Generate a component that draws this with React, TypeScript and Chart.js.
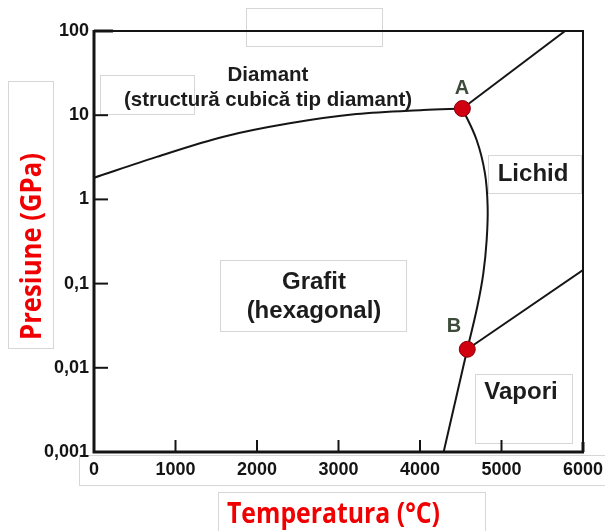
import React, { useEffect, useRef } from "react";
import { Chart, registerables } from "chart.js";

Chart.register(...registerables);

// ---- axis ticks ----
const xTickValues = [0, 1000, 2000, 3000, 4000, 5000, 6000];
const xTickLabels = ["0", "1000", "2000", "3000", "4000", "5000", "6000"];
const yTickValues = [0.001, 0.01, 0.1, 1, 10, 100];
const yTickLabels = ["0,001", "0,01", "0,1", "1", "10", "100"];

// ---- phase boundaries (T in °C, P in GPa) ----
const graphiteDiamondT = [0, 770, 1590, 2400, 3220, 4040, 4520];
const graphiteDiamondP = [1.81, 3.2, 5.55, 8.0, 10.3, 11.5, 12];

const graphiteLiquidT = [4520, 4695, 4797, 4830, 4818, 4777, 4703, 4580];
const graphiteLiquidP = [12, 5.07, 2.04, 0.82, 0.33, 0.132, 0.053, 0.0166];

const diamondLiquidT = [4520, 5780];
const diamondLiquidP = [12, 100];

const graphiteVaporT = [4580, 4290];
const graphiteVaporP = [0.0166, 0.001];

const liquidVaporT = [4580, 6000];
const liquidVaporP = [0.0166, 0.145];

const triplePointNames = ["A", "B"];
const triplePointT = [4520, 4580];
const triplePointP = [12, 0.0166];

// ---- texts ----
const xTitle = "Temperatura (°C)";
const yTitle = "Presiune (GPa)";
const regionNames = [
  ["Diamant", "(structură cubică tip diamant)"],
  ["Grafit", "(hexagonal)"],
  ["Lichid"],
  ["Vapori"],
];

// annotation anchors in data coordinates, with styles
const regionAnchors = [
  { t: 2135, p: 30, size: 20.5, lineH: 25 },
  { t: 2699, p: 0.1045, size: 24, lineH: 29.5 },
  { t: 5387, p: 2.0, size: 24, lineH: 28 },
  { t: 5239, p: 0.00516, size: 24, lineH: 28 },
];
const pointLabelAnchors = [
  { t: 4515, p: 21 },
  { t: 4417, p: 0.0313 },
];

// decorative light boxes from the scanned figure (pixels)
const scanBoxes = [
  [246, 8, 136, 38],
  [100, 75, 94, 39],
  [8, 81, 45, 267],
  [79, 455, 540, 30],
  [218, 492, 267, 45],
  [488, 155, 93, 38],
  [475, 374, 97, 69],
  [220, 260, 186, 71],
];

const toPts = (ts: number[], ps: number[]) => ts.map((t, i) => ({ x: t, y: ps[i] }));

const LABEL_FONT = '"Liberation Sans", Arial, sans-serif';
const TITLE_FONT = '"Open Sans", "Noto Sans", sans-serif';

function fitText(ctx: CanvasRenderingContext2D, text: string, targetW: number) {
  const w = ctx.measureText(text).width;
  return Math.min(1.15, targetW / w);
}

const decorPlugin = {
  id: "decor",
  beforeDraw(chart: any) {
    const ctx: CanvasRenderingContext2D = chart.ctx;
    ctx.save();
    ctx.fillStyle = "#ffffff";
    ctx.fillRect(0, 0, chart.width, chart.height);
    ctx.strokeStyle = "#d6d6d6";
    ctx.lineWidth = 1;
    for (const [x, y, w, h] of scanBoxes) ctx.strokeRect(x + 0.5, y + 0.5, w, h);
    ctx.restore();
  },
  afterDraw(chart: any) {
    const ctx: CanvasRenderingContext2D = chart.ctx;
    const { left, right, top, bottom } = chart.chartArea;
    const xs = chart.scales.x;
    const ys = chart.scales.y;
    ctx.save();
    ctx.strokeStyle = "#141414";
    ctx.lineCap = "butt";
    // top & right frame
    ctx.lineWidth = 2;
    ctx.beginPath();
    ctx.moveTo(left, top);
    ctx.lineTo(right, top);
    ctx.lineTo(right, bottom);
    ctx.stroke();
    // left & bottom axes
    ctx.lineWidth = 3;
    ctx.beginPath();
    ctx.moveTo(left, top - 1);
    ctx.lineTo(left, bottom);
    ctx.lineTo(right + 1, bottom);
    ctx.stroke();
    // inner tick marks
    for (let i = 1; i < yTickValues.length; i++) {
      const y = ys.getPixelForValue(yTickValues[i]);
      const last = i === yTickValues.length - 1;
      ctx.lineWidth = last ? 3 : 2;
      ctx.beginPath();
      ctx.moveTo(left, y);
      ctx.lineTo(left + (last ? 19 : 14), y);
      ctx.stroke();
    }
    ctx.lineWidth = 2;
    for (let i = 1; i < xTickValues.length - 1; i++) {
      const x = xs.getPixelForValue(xTickValues[i]);
      ctx.beginPath();
      ctx.moveTo(x, bottom);
      ctx.lineTo(x, bottom - 12);
      ctx.stroke();
    }
    ctx.lineWidth = 3;
    ctx.beginPath();
    ctx.moveTo(right, bottom);
    ctx.lineTo(right, bottom - 10);
    ctx.stroke();

    // region labels
    ctx.fillStyle = "#1c1c1c";
    ctx.textAlign = "center";
    ctx.textBaseline = "middle";
    regionNames.forEach((lines, i) => {
      const a = regionAnchors[i];
      const cx = xs.getPixelForValue(a.t);
      const cy = ys.getPixelForValue(a.p);
      ctx.font = `bold ${a.size}px ${LABEL_FONT}`;
      lines.forEach((ln, k) => ctx.fillText(ln, cx, cy + k * a.lineH));
    });
    // triple point names
    ctx.fillStyle = "#3d4b3b";
    ctx.font = `bold 20px ${LABEL_FONT}`;
    triplePointNames.forEach((n, i) => {
      const a = pointLabelAnchors[i];
      ctx.fillText(n, xs.getPixelForValue(a.t), ys.getPixelForValue(a.p));
    });

    // axis titles (Calibri-like, fitted to width)
    ctx.fillStyle = "#f00000";
    ctx.font = `bold 29px ${TITLE_FONT}`;
    ctx.textBaseline = "alphabetic";
    ctx.save();
    ctx.translate(333.5, 523);
    const sx = fitText(ctx, xTitle, 213);
    ctx.scale(sx, 1);
    ctx.fillText(xTitle, 0, 0);
    ctx.restore();

    ctx.save();
    ctx.translate(41, 246.5);
    ctx.rotate(-Math.PI / 2);
    const sy = fitText(ctx, yTitle, 187);
    ctx.scale(sy, 1);
    ctx.fillText(yTitle, 0, 0);
    ctx.restore();

    ctx.restore();
  },
};

export default function App() {
  const ref = useRef<HTMLCanvasElement | null>(null);

  useEffect(() => {
    if (!ref.current) return;
    const lineDs = (ts: number[], ps: number[], smooth: "mono" | "bezier" | "none") => ({
      data: toPts(ts, ps),
      showLine: true,
      borderColor: "#151515",
      borderWidth: 2,
      pointRadius: 0,
      pointHoverRadius: 0,
      fill: false,
      tension: smooth === "none" ? 0 : 0.4,
      cubicInterpolationMode: smooth === "mono" ? "monotone" : "default",
      order: 2,
    });

    const chart = new Chart(ref.current, {
      type: "scatter",
      data: {
        datasets: [
          {
            data: toPts(triplePointT, triplePointP),
            showLine: false,
            pointRadius: 8,
            pointHoverRadius: 8,
            pointBackgroundColor: "#d00010",
            pointBorderColor: "#8a0008",
            pointBorderWidth: 1,
            order: 0,
          } as any,
          lineDs(graphiteDiamondT, graphiteDiamondP, "mono"),
          lineDs(graphiteLiquidT, graphiteLiquidP, "bezier"),
          lineDs(diamondLiquidT, diamondLiquidP, "none"),
          lineDs(graphiteVaporT, graphiteVaporP, "none"),
          lineDs(liquidVaporT, liquidVaporP, "none"),
        ],
      },
      options: {
        responsive: false,
        devicePixelRatio: 1,
        animation: false,
        events: [],
        layout: { padding: { left: 0, top: 31, right: 22, bottom: 0 } },
        plugins: {
          legend: { display: false },
          tooltip: { enabled: false },
          title: { display: false },
        },
        scales: {
          x: {
            type: "linear",
            min: 0,
            max: 6000,
            grid: { display: false, drawTicks: false, tickLength: 0 },
            border: { display: false },
            afterBuildTicks: (s: any) => {
              s.ticks = xTickValues.map((v) => ({ value: v }));
            },
            afterFit: (s: any) => {
              s.height = 79;
              s.paddingLeft = 0;
              s.paddingRight = 0;
            },
            ticks: {
              autoSkip: false,
              maxRotation: 0,
              padding: 7,
              color: "#141414",
              font: { family: LABEL_FONT, size: 18, weight: "bold" },
              callback: (_v: any, i: number) => xTickLabels[i],
            },
          },
          y: {
            type: "logarithmic",
            min: 0.001,
            max: 100,
            grid: { display: false, drawTicks: false, tickLength: 0 },
            border: { display: false },
            afterBuildTicks: (s: any) => {
              s.ticks = yTickValues.map((v) => ({ value: v }));
            },
            afterFit: (s: any) => {
              s.width = 94;
              s.paddingTop = 0;
              s.paddingBottom = 0;
            },
            ticks: {
              autoSkip: false,
              padding: 5,
              color: "#141414",
              font: { family: LABEL_FONT, size: 18, weight: "bold" },
              callback: (_v: any, i: number) => yTickLabels[i],
            },
          },
        },
      } as any,
      plugins: [decorPlugin as any],
    });
    return () => chart.destroy();
  }, []);

  return (
    <div style={{ position: "fixed", left: 0, top: 0, width: 605, height: 531, background: "#fff" }}>
      <canvas ref={ref} width={605} height={531} style={{ display: "block" }} />
    </div>
  );
}
